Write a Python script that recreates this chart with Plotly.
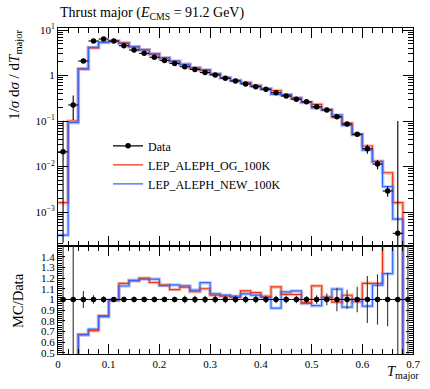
import plotly.graph_objects as go

# ---------------- data ----------------
bin_edges = [round(0.02 * i, 2) for i in range(36)]
bin_centers = [round(0.01 + 0.02 * i, 2) for i in range(35)]
bin_halfwidth = [0.01] * 35

data_vals = [0.021, 0.225, 2.08, 5.73, 6.34, 5.73, 4.52, 3.63, 3.07, 2.52,
             2.15, 1.84, 1.56, 1.36, 1.16, 1.03, 0.87, 0.757, 0.65, 0.567,
             0.497, 0.419, 0.354, 0.30, 0.265, 0.206, 0.174, 0.124, 0.086, 0.051,
             0.0245, 0.0113, 0.0029, 0.00034, 0.00005]
data_rel_up = [3.8, 0.62, 0.08, 0.04, 0.03, 0.02,
               0.025, 0.025, 0.025, 0.025, 0.025, 0.025,
               0.035, 0.035, 0.035, 0.035, 0.035, 0.035, 0.035, 0.035, 0.035, 0.035, 0.035, 0.035,
               0.03, 0.04, 0.055, 0.11, 0.09, 0.12, 0.22, 0.235, 0.25, 294.0, 1.0]
data_rel_dn = [0.99, 0.53, 0.08, 0.04, 0.03, 0.02,
               0.025, 0.025, 0.025, 0.025, 0.025, 0.025,
               0.035, 0.035, 0.035, 0.035, 0.035, 0.035, 0.035, 0.035, 0.035, 0.035, 0.035, 0.035,
               0.03, 0.04, 0.055, 0.11, 0.09, 0.12, 0.22, 0.235, 0.25, 0.99, 0.99]

og_vals = [0.0016, 0.10, 1.40, 4.06, 5.38, 5.67, 5.20, 4.26, 3.68, 2.92,
           2.44, 2.01, 1.74, 1.458, 1.276, 1.071, 0.896, 0.772, 0.702, 0.603,
           0.512, 0.468, 0.371, 0.314, 0.257, 0.232, 0.178, 0.121, 0.0894, 0.0499,
           0.0282, 0.0130, 0.0073, 0.0016, 1e-6]
new_vals = [0.00031, 0.092, 1.39, 4.14, 5.32, 5.70, 5.09, 4.28, 3.65, 3.00,
            2.43, 2.09, 1.76, 1.48, 1.342, 1.085, 0.905, 0.78, 0.684, 0.590,
            0.507, 0.385, 0.379, 0.324, 0.255, 0.194, 0.177, 0.136, 0.0798, 0.051,
            0.02296, 0.0128, 0.0036, 0.0007, 1e-6]

series_names = ["Data", "LEP_ALEPH_OG_100K", "LEP_ALEPH_NEW_100K"]
main_ytickvals = [1e-3, 1e-2, 1e-1, 1, 10]
main_yticktext = ["10<sup>\u22123</sup>", "10<sup>\u22122</sup>", "10<sup>\u22121</sup>", "1", "10<sup>1</sup>"]
ratio_tickvals = [0.5, 0.6, 0.7, 0.8, 0.9, 1.0, 1.1, 1.2, 1.3, 1.4]
ratio_ticktext = ["0.5", "0.6", "0.7", "0.8", "0.9", "1", "1.1", "1.2", "1.3", "1.4"]

RED = "#EE3311"
BLUE = "#3366FF"
FONT = "Liberation Serif"

# ---------------- derived ----------------
err_up = [v * r for v, r in zip(data_vals, data_rel_up)]
err_dn = [v * r for v, r in zip(data_vals, data_rel_dn)]
ratio_og = [m / d for m, d in zip(og_vals, data_vals)]
ratio_new = [m / d for m, d in zip(new_vals, data_vals)]
ones = [1.0] * len(data_vals)


def step(vals):
    return list(vals) + [vals[-1]]


minor_log = [k * 10 ** e for e in range(-4, 2) for k in range(2, 10)]

fig = go.Figure()

# main panel MC (halo band + line)
for vals, col in [(og_vals, RED), (new_vals, BLUE)]:
    fig.add_trace(go.Scatter(x=bin_edges, y=step(vals), mode="lines", line_shape="hv",
                             line=dict(color=col, width=3.5), opacity=0.3,
                             showlegend=False, hoverinfo="skip", xaxis="x", yaxis="y"))
for vals, col, name in [(og_vals, RED, series_names[1]), (new_vals, BLUE, series_names[2])]:
    fig.add_trace(go.Scatter(x=bin_edges, y=step(vals), mode="lines", line_shape="hv",
                             line=dict(color=col, width=1.2), name=name,
                             showlegend=False, xaxis="x", yaxis="y"))

# main panel data
fig.add_trace(go.Scatter(x=bin_centers, y=data_vals, mode="markers",
                         marker=dict(color="black", size=5.5),
                         error_x=dict(type="data", array=bin_halfwidth, color="black", thickness=1.1, width=0),
                         error_y=dict(type="data", symmetric=False, array=err_up, arrayminus=err_dn,
                                      color="black", thickness=1.1, width=0),
                         showlegend=False, xaxis="x", yaxis="y"))

# legend entries
fig.add_trace(go.Scatter(x=[None], y=[None], mode="lines+markers", name=series_names[0],
                         line=dict(color="black", width=1.2), marker=dict(color="black", size=5.5),
                         xaxis="x", yaxis="y"))
fig.add_trace(go.Scatter(x=[None], y=[None], mode="lines", name=series_names[1],
                         line=dict(color=RED, width=1.2), xaxis="x", yaxis="y"))
fig.add_trace(go.Scatter(x=[None], y=[None], mode="lines", name=series_names[2],
                         line=dict(color=BLUE, width=1.2), xaxis="x", yaxis="y"))

# ratio panel
for vals, col in [(ratio_og, RED), (ratio_new, BLUE)]:
    fig.add_trace(go.Scatter(x=bin_edges, y=step(vals), mode="lines", line_shape="hv",
                             line=dict(color=col, width=3.5), opacity=0.3,
                             showlegend=False, hoverinfo="skip", xaxis="x2", yaxis="y2"))
for vals, col in [(ratio_og, RED), (ratio_new, BLUE)]:
    fig.add_trace(go.Scatter(x=bin_edges, y=step(vals), mode="lines", line_shape="hv",
                             line=dict(color=col, width=1.2),
                             showlegend=False, xaxis="x2", yaxis="y2"))
fig.add_trace(go.Scatter(x=bin_centers, y=ones, mode="markers",
                         marker=dict(color="black", size=5.5),
                         error_x=dict(type="data", array=bin_halfwidth, color="black", thickness=1.1, width=0),
                         error_y=dict(type="data", symmetric=False, array=data_rel_up, arrayminus=data_rel_dn,
                                      color="#333333", thickness=1.1, width=0),
                         showlegend=False, xaxis="x2", yaxis="y2"))

axis_common = dict(showline=True, linecolor="black", linewidth=1, mirror="allticks",
                   ticks="inside", tickcolor="black", showgrid=False, zeroline=False,
                   tickfont=dict(family=FONT, size=11, color="black"))

W, H = 430, 389
M_L, M_R, M_T, M_B = 58, 10, 28, 35
plot_h = H - M_T - M_B
frac = 108 / plot_h

fig.update_layout(
    width=W, height=H,
    margin=dict(l=M_L, r=M_R, t=M_T, b=M_B),
    paper_bgcolor="white", plot_bgcolor="white",
    font=dict(family=FONT, color="black"),
    showlegend=True,
    legend=dict(x=0.141, y=0.683, xanchor="left", yanchor="top",
                bgcolor="rgba(0,0,0,0)", font=dict(family=FONT, size=12),
                itemwidth=30, tracegroupgap=0),
    xaxis=dict(domain=[0, 1], anchor="y", range=[0, 0.7], dtick=0.1, ticklen=10,
               showticklabels=False,
               minor=dict(dtick=0.02, ticks="inside", ticklen=5, tickcolor="black"),
               **axis_common),
    yaxis=dict(domain=[frac, 1], anchor="x", type="log", range=[-3.747, 1.044],
               tickmode="array", tickvals=main_ytickvals, ticktext=main_yticktext, ticklen=10,
               minor=dict(tickmode="array", tickvals=minor_log, ticks="inside", ticklen=5, tickcolor="black"),
               **axis_common),
    xaxis2=dict(domain=[0, 1], anchor="y2", range=[0, 0.7], dtick=0.1, ticklen=10,
                matches="x",
                minor=dict(dtick=0.02, ticks="inside", ticklen=5, tickcolor="black"),
                **axis_common),
    yaxis2=dict(domain=[0, frac], anchor="x2", range=[0.49, 1.5],
                tickmode="array", tickvals=ratio_tickvals, ticktext=ratio_ticktext, ticklen=7,
                minor=dict(dtick=0.02, tick0=0.5, ticks="inside", ticklen=4, tickcolor="black"),
                **axis_common),
    annotations=[
        dict(text="Thrust major (<i>E</i><sub>CMS</sub> = 91.2 GeV)", xref="paper", yref="paper",
             x=0, y=1, xanchor="left", yanchor="bottom", yshift=4, showarrow=False,
             font=dict(family=FONT, size=14)),
        dict(text="1/<i>\u03c3</i> d<i>\u03c3</i> / d<i>T</i><sub>major</sub>", xref="paper", yref="paper",
             x=-0.1215, y=1.0, xanchor="center", yanchor="top", textangle=-90, showarrow=False,
             font=dict(family=FONT, size=15)),
        dict(text="MC/Data", xref="paper", yref="paper",
             x=-0.113, y=54 / plot_h, xanchor="center", yanchor="middle", textangle=-90,
             showarrow=False, font=dict(family=FONT, size=14.5)),
        dict(text="<i>T</i><sub>major</sub>", xref="paper", yref="paper",
             x=1.022, y=-0.02, xanchor="right", yanchor="top", showarrow=False,
             font=dict(family=FONT, size=14.5)),
    ],
)

# the page's default 8px body margin would push the 430x389 figure outside the window
fig.write_html("out.html", config={"displayModeBar": False},
               post_script="document.body.style.margin='0px';")
